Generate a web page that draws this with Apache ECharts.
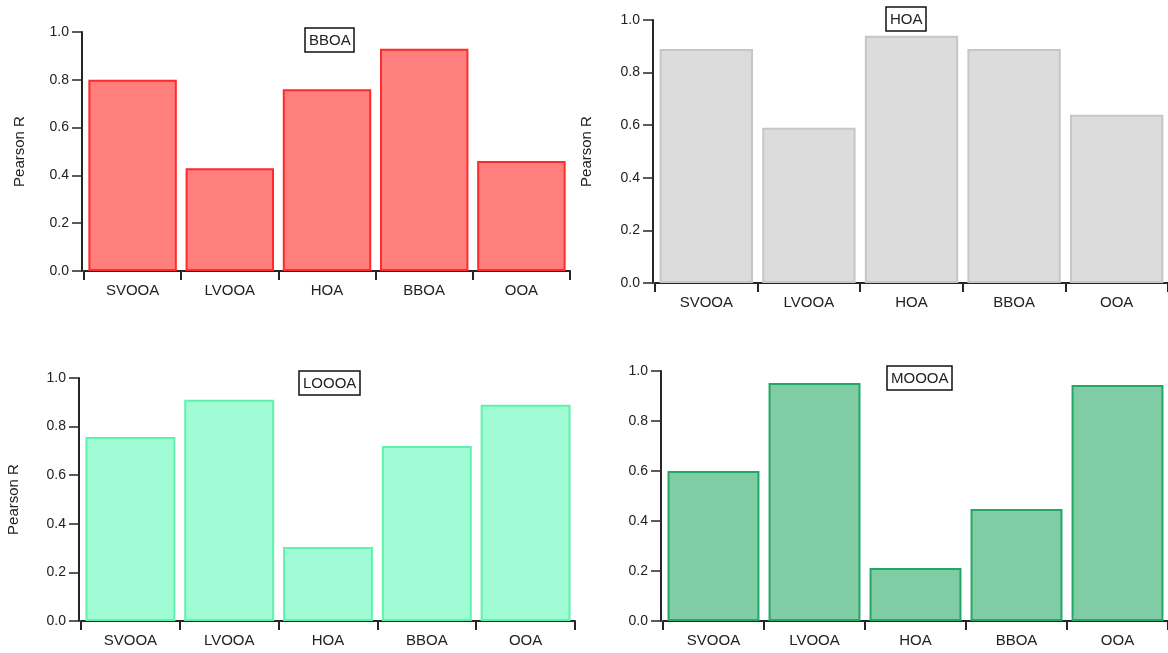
<!DOCTYPE html>
<html>
<head>
<meta charset="utf-8">
<script src="https://cdn.jsdelivr.net/npm/echarts@6/dist/echarts.min.js"></script>
<style>
  html, body { margin: 0; padding: 0; background: #fff; }
  #chart { width: 1168px; height: 653px; }
</style>
</head>
<body>
<div id="chart"></div>
<script>
// Factor categories shared by all four panels
const categories = ['SVOOA', 'LVOOA', 'HOA', 'BBOA', 'OOA'];

// Pearson R of each factor against the panel's reference factor
const panelNames = ['BBOA', 'HOA', 'LOOOA', 'MOOOA'];
const bboaR  = [0.80, 0.43, 0.76, 0.93, 0.46];
const hoaR   = [0.89, 0.59, 0.94, 0.89, 0.64];
const loooaR = [0.757, 0.91, 0.305, 0.72, 0.89];
const moooaR = [0.60, 0.952, 0.212, 0.448, 0.944];
const yTicks = [0.0, 0.2, 0.4, 0.6, 0.8, 1.0];

// Panel layout and styling
const panels = [
  { data: bboaR,  grid: { left: 84,  top: 32,  width: 486, height: 239 }, fill: '#ff7f7f', edge: '#ff2a2a', yName: 'Pearson R', nameGap: 55, title: { left: 305, top: 28 } },
  { data: hoaR,   grid: { left: 655, top: 20,  width: 515, height: 263 }, fill: '#dcdcdc', edge: '#c6c6c6', yName: 'Pearson R', nameGap: 59, title: { left: 886, top: 7 } },
  { data: loooaR, grid: { left: 81,  top: 378, width: 494, height: 243 }, fill: '#a0fcd4', edge: '#5ef2ac', yName: 'Pearson R', nameGap: 58, title: { left: 299, top: 371 } },
  { data: moooaR, grid: { left: 663, top: 371, width: 509, height: 250 }, fill: '#80cca5', edge: '#22a862', yName: '',          nameGap: 58, title: { left: 887, top: 366 } }
];

const axisColor = '#262626';
const textColor = '#222';
const font = 'Liberation Sans, Arial, sans-serif';

const option = {
  animation: false,
  backgroundColor: '#fff',
  title: panels.map((p, i) => ({
    text: panelNames[i],
    left: p.title.left,
    top: p.title.top,
    borderColor: '#111',
    borderWidth: 1.5,
    padding: [5, 4, 4, 4],
    textStyle: { fontFamily: font, fontSize: 15, fontWeight: 'normal', color: textColor }
  })),
  grid: panels.map(p => Object.assign({ containLabel: false }, p.grid)),
  xAxis: panels.map((p, i) => ({
    type: 'category',
    gridIndex: i,
    data: categories,
    offset: 3,
    axisLine: { lineStyle: { color: axisColor, width: 2 } },
    axisTick: { show: true, length: 9, lineStyle: { color: axisColor, width: 2 } },
    axisLabel: { color: textColor, fontFamily: font, fontSize: 15, margin: 9 }
  })),
  yAxis: panels.map((p, i) => ({
    type: 'value',
    gridIndex: i,
    min: 0,
    max: 1,
    interval: 0.2,
    offset: 2,
    name: p.yName,
    nameLocation: 'middle',
    nameRotate: 90,
    nameGap: p.nameGap,
    nameTextStyle: { color: textColor, fontFamily: font, fontSize: 15 },
    splitLine: { show: false },
    axisLine: { show: true, lineStyle: { color: axisColor, width: 2 } },
    axisTick: { show: true, length: 10, lineStyle: { color: axisColor, width: 1.5 } },
    axisLabel: {
      color: textColor, fontFamily: font, fontSize: 14, margin: 13,
      formatter: v => (yTicks.includes(Math.round(v * 10) / 10) ? v.toFixed(1) : '')
    }
  })),
  series: panels.map((p, i) => ({
    type: 'bar',
    xAxisIndex: i,
    yAxisIndex: i,
    data: p.data,
    barCategoryGap: '9%',
    itemStyle: { color: p.fill, borderColor: p.edge, borderWidth: 2 }
  }))
};

const chart = echarts.init(document.getElementById('chart'), null, { renderer: 'canvas' });
chart.setOption(option);
</script>
</body>
</html>
